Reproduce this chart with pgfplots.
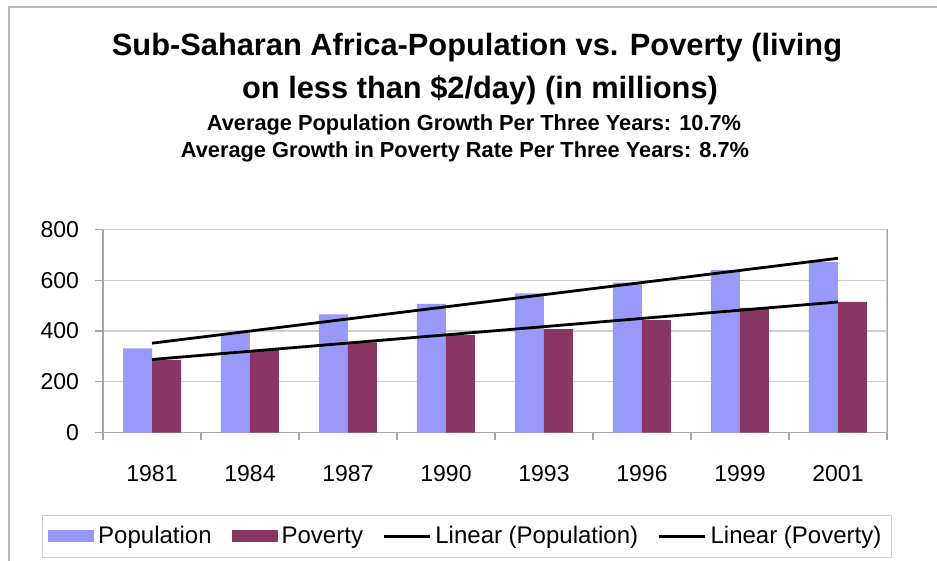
\documentclass[border=0pt]{standalone}
\usepackage{fontspec}
\setmainfont{Liberation Sans}
\usepackage{pgfplots}
\pgfplotsset{compat=1.18}
\definecolor{popc}{RGB}{153,153,250}
\definecolor{povc}{RGB}{138,54,98}
\definecolor{gridc}{RGB}{205,205,205}
\definecolor{framec}{RGB}{185,185,185}
\begin{document}
\begin{tikzpicture}
\useasboundingbox (0,0) rectangle (468.5pt,280.5pt);
\draw[framec, line width=1.2pt] (4.5pt,0pt) -- (4.5pt,277pt) -- (468.5pt,277pt);
\node[font=\bfseries\fontsize{15.4}{17}\selectfont] at (238.5pt,256.5pt) {Sub-Saharan Africa-Population vs. Poverty (living};
\node[font=\bfseries\fontsize{15.4}{17}\selectfont] at (240pt,235.5pt) {on less than \$2/day) (in millions)};
\node[font=\bfseries\fontsize{10.9}{12}\selectfont] at (237pt,218pt) {Average Population Growth Per Three Years: 10.7\%};
\node[font=\bfseries\fontsize{10.9}{12}\selectfont] at (232.5pt,204.5pt) {Average Growth in Poverty Rate Per Three Years: 8.7\%};
\begin{axis}[
  at={(51.5pt,64.15pt)}, anchor=south west,
  width=392pt, height=101.7pt, scale only axis,
  xmin=-0.5, xmax=7.5, ymin=0, ymax=800,
  ytick={0,200,...,800},
  xtick={0,...,7},
  xticklabels={1981,1984,1987,1990,1993,1996,1999,2001},
  minor xtick={-0.5,0.5,...,7.5},
  major x tick style={draw=none},
  minor x tick style={gridc!80!black, line width=0.6pt},
  minor tick length=3.5pt,
  major tick length=4pt,
  ytick style={gridc!80!black, line width=0.6pt},
  tick align=outside,
  tick pos=left,
  ymajorgrids, grid style={gridc, line width=0.6pt},
  axis line style={gridc!80!black, line width=0.6pt},
  /pgf/number format/assume math mode=true,
  tick label style={font=\fontsize{11.5}{13}\selectfont},
  xticklabel style={yshift=-9pt},
  yticklabel style={xshift=-4.5pt},
  legend columns=4,
  legend style={at={(0.464,-0.51)}, anchor=center, draw=gridc, line width=0.6pt,
    font=\fontsize{12}{14}\selectfont, inner xsep=3pt, inner ysep=3.5pt,
    /tikz/every even column/.append style={column sep=8pt}},
  legend cell align=left,
]
\addplot[ybar, bar width=14.5pt, bar shift=-7.25pt, fill=popc, draw=none,
  legend image code/.code={\fill[popc] (0pt,-3pt) rectangle (23pt,3pt);}]
  coordinates {(0,332) (1,393) (2,465) (3,507) (4,548) (5,590) (6,639) (7,672)};
\addlegendentry{Population}
\addplot[ybar, bar width=14.5pt, bar shift=7.25pt, fill=povc, draw=none,
  legend image code/.code={\fill[povc] (0pt,-3pt) rectangle (23pt,3pt);}]
  coordinates {(0,286) (1,325) (2,355) (3,384) (4,407) (5,443) (6,491) (7,515)};
\addlegendentry{Poverty}
\addplot[black, line width=1.4pt, mark=none, sharp plot,
  legend image code/.code={\draw[black, line width=1.2pt] (0pt,0pt) -- (23pt,0pt);}]
  coordinates {(0,352) (7,686)};
\addlegendentry{Linear (Population)}
\addplot[black, line width=1.4pt, mark=none, sharp plot,
  legend image code/.code={\draw[black, line width=1.2pt] (0pt,0pt) -- (23pt,0pt);}]
  coordinates {(0,288) (7,514)};
\addlegendentry{Linear (Poverty)}
\draw[gridc, line width=0.6pt] (rel axis cs:1,0) -- (rel axis cs:1,1);
\draw[gridc, line width=0.6pt] (rel axis cs:0,1) -- (rel axis cs:1,1);
\end{axis}
\end{tikzpicture}
\end{document}
